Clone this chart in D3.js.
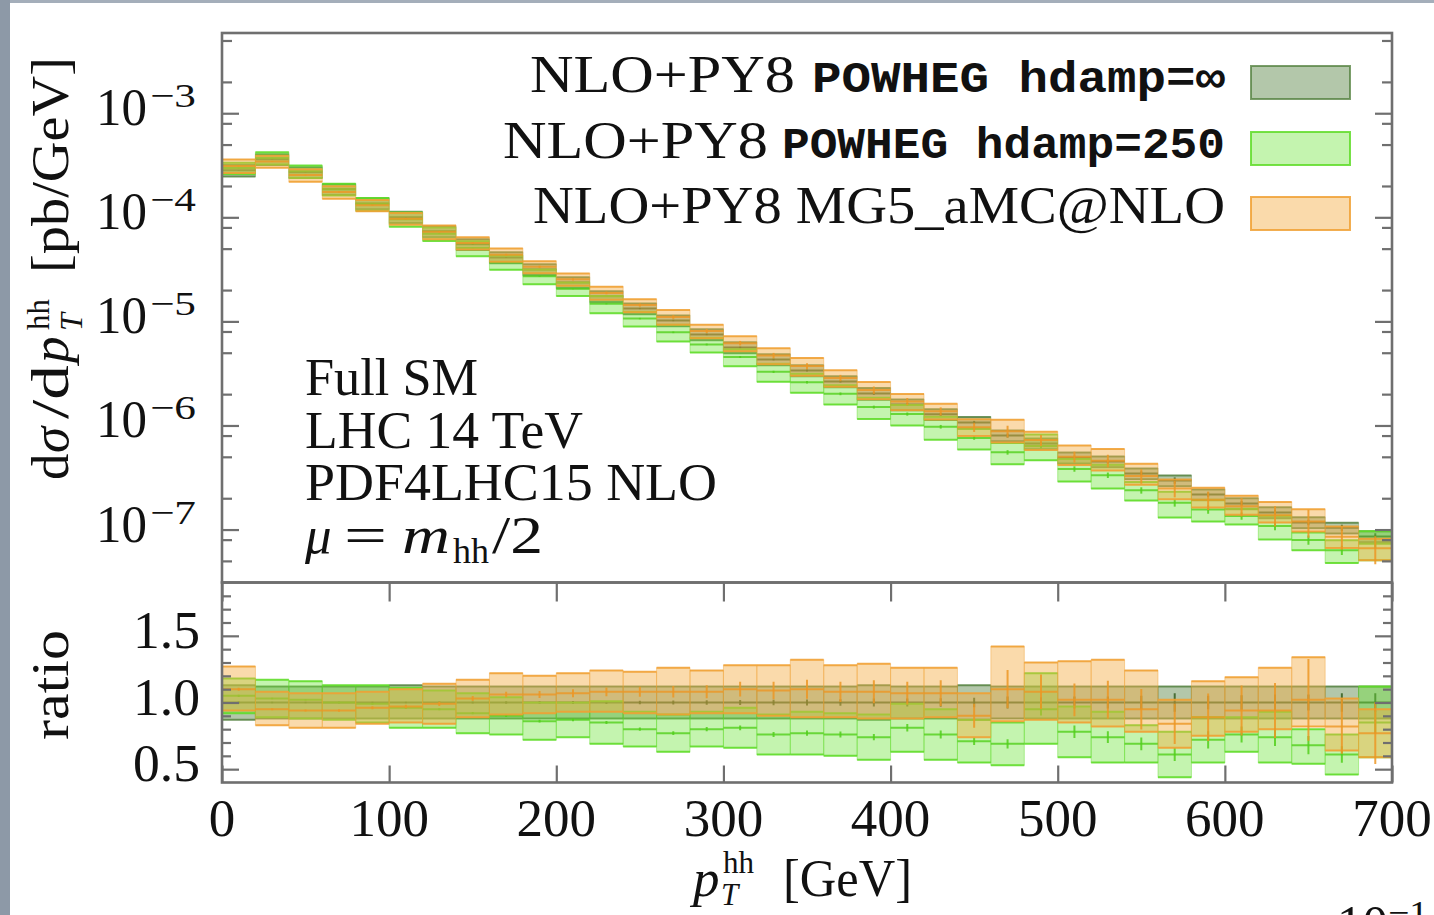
<!DOCTYPE html>
<html><head><meta charset="utf-8">
<script src="https://cdn.jsdelivr.net/npm/d3@7"></script>
<style>body{margin:0;background:#fff;} svg{display:block}</style>
</head><body>
<svg id="c" width="1434" height="915"></svg>
<script>
// ---------------- data ----------------
const binLow = [0,20,40,60,80,100,120,140,160,180,200,220,240,260,280,300,320,340,360,380,400,420,440,460,480,500,520,540,560,580,600,620,640,660,680];
const binWidth = 20;
// reference: NLO+PY8 POWHEG hdamp=inf, central value [pb/GeV]
const refCentral = [2.83e-4,3.61e-4,2.71e-4,1.86e-4,1.36e-4,1.0e-4,7.33e-5,5.5e-5,4.12e-5,3.16e-5,2.37e-5,1.74e-5,1.33e-5,1.02e-5,7.5e-6,5.62e-6,4.31e-6,3.38e-6,2.65e-6,2.03e-6,1.59e-6,1.28e-6,1.07e-6,8.0e-7,6.7e-7,4.9e-7,4.5e-7,3.45e-7,2.96e-7,2.17e-7,1.78e-7,1.46e-7,1.17e-7,1.04e-7,8.6e-8];
// ratios to the reference central value
const refLo  = [0.87,0.88,0.88,0.88,0.88,0.88,0.88,0.88,0.88,0.88,0.88,0.88,0.88,0.88,0.88,0.88,0.88,0.88,0.88,0.87,0.88,0.88,0.87,0.88,0.88,0.88,0.88,0.88,0.88,0.88,0.88,0.88,0.88,0.88,0.88];
const refHi  = [1.13,1.12,1.12,1.12,1.12,1.13,1.12,1.12,1.12,1.12,1.12,1.12,1.12,1.12,1.12,1.12,1.12,1.12,1.12,1.13,1.12,1.12,1.13,1.12,1.12,1.12,1.12,1.12,1.12,1.12,1.12,1.12,1.12,1.12,1.12];
const refMid = [1,1,1,1,1,1,1,1,1,1,1,1,1,1,1,1,1,1,1,1,1,1,1,1,1,1,1,1,1,1,1,1,1,1,1];
const refStat = [0.008,0.005,0.005,0.005,0.006,0.006,0.007,0.008,0.009,0.01,0.011,0.012,0.014,0.015,0.017,0.018,0.02,0.022,0.025,0.03,0.03,0.032,0.035,0.045,0.04,0.045,0.045,0.05,0.07,0.05,0.055,0.06,0.06,0.07,0.07];

const h250Mid = [1.05,1.03,1.02,1.00,0.99,0.96,0.95,0.92,0.90,0.86,0.87,0.85,0.80,0.77,0.80,0.81,0.76,0.77,0.76,0.74,0.81,0.76,0.71,0.69,0.95,0.78,0.74,0.69,0.61,0.72,0.76,0.74,0.68,0.61,0.85];
const h250Lo  = [0.92,0.89,0.88,0.87,0.85,0.81,0.81,0.77,0.76,0.72,0.74,0.69,0.67,0.63,0.67,0.66,0.61,0.61,0.60,0.57,0.63,0.57,0.55,0.53,0.69,0.59,0.55,0.55,0.44,0.55,0.63,0.55,0.54,0.46,0.59];
const h250Hi  = [1.18,1.17,1.16,1.13,1.13,1.11,1.09,1.07,1.04,1.00,1.00,1.01,0.93,0.91,0.93,0.96,0.91,0.93,0.92,0.91,0.99,0.95,0.87,0.85,1.22,0.97,0.93,0.83,0.78,0.89,0.89,0.93,0.80,0.76,1.12];
const h250Stat = [0.008,0.005,0.005,0.006,0.006,0.007,0.008,0.009,0.01,0.012,0.013,0.014,0.016,0.018,0.02,0.022,0.024,0.026,0.03,0.032,0.035,0.04,0.04,0.05,0.05,0.06,0.06,0.07,0.08,0.09,0.08,0.09,0.1,0.1,0.1];

const mgMid = [1.10,0.95,0.94,0.94,0.96,0.97,0.99,1.03,1.06,1.06,1.07,1.08,1.08,1.08,1.08,1.10,1.09,1.10,1.08,1.08,1.07,1.07,0.90,1.10,1.08,1.02,1.02,0.95,0.84,0.89,0.94,0.94,1.02,0.82,0.77];
const mgLo  = [0.94,0.83,0.81,0.81,0.84,0.85,0.84,0.89,0.91,0.92,0.93,0.93,0.92,0.91,0.92,0.92,0.90,0.89,0.89,0.88,0.88,0.89,0.74,0.86,0.87,0.85,0.82,0.78,0.66,0.75,0.78,0.80,0.82,0.64,0.59];
const mgHi  = [1.27,1.08,1.07,1.07,1.08,1.10,1.14,1.17,1.22,1.20,1.22,1.24,1.23,1.26,1.24,1.28,1.28,1.32,1.28,1.29,1.26,1.26,1.07,1.42,1.30,1.31,1.32,1.24,1.02,1.16,1.19,1.26,1.34,1.03,0.95];
const mgStat = [0.01,0.008,0.008,0.01,0.012,0.014,0.016,0.018,0.02,0.025,0.028,0.03,0.035,0.04,0.045,0.05,0.06,0.065,0.07,0.08,0.08,0.09,0.1,0.13,0.12,0.12,0.14,0.16,0.18,0.2,0.2,0.22,0.3,0.25,0.3];

const seriesNames = ["NLO+PY8 POWHEG hdamp=∞", "NLO+PY8 POWHEG hdamp=250", "NLO+PY8 MG5_aMC@NLO"];
const xTicks = [0,100,200,300,400,500,600,700];
const mainMajorTicks = [1e-7,1e-6,1e-5,1e-4,1e-3];
const mainTickExps = ["−7","−6","−5","−4","−3"];
const mainMinorMult = [2,5,8];
const ratioMajorTicks = [0.5,1.0,1.5];
const ratioTickLabels = ["0.5","1.0","1.5"];
const ratioMinorTicks = [0.6,0.7,0.8,0.9,1.1,1.2,1.3,1.4,1.6,1.7,1.8];
const infoLines = ["Full SM","LHC 14 TeV","PDF4LHC15 NLO"];

// ---------------- layout ----------------
const L = 222, R = 1392, T = 33, MB = 582.5, RB = 782.5;
const SERIF = "'Liberation Serif','Times New Roman',serif";
const MONO = "'Liberation Mono','DejaVu Sans Mono',monospace";
const FRAME = "#6f6f6f";

const svg = d3.select("#c");
svg.append("rect").attr("width",1434).attr("height",915).attr("fill","#fff");
svg.append("rect").attr("x",0).attr("y",0).attr("width",1434).attr("height",3).attr("fill","#a4aeba");
svg.append("rect").attr("x",0).attr("y",0).attr("width",10).attr("height",915).attr("fill","#8d99a7");

const x = d3.scaleLinear().domain([0,700]).range([L,R]);
const yMain = d3.scaleLog().domain([3.1e-8,5.9e-3]).range([MB,T]);
const yRat = d3.scaleLinear().domain([0.4,1.9]).range([RB,MB]);

const defs = svg.append("defs");
defs.append("clipPath").attr("id","cm").append("rect").attr("x",L).attr("y",T).attr("width",R-L).attr("height",MB-T);
defs.append("clipPath").attr("id","cr").append("rect").attr("x",L).attr("y",MB).attr("width",R-L).attr("height",RB-MB);

const styles = [
  {fill:"#4f7d3a", fo:0.43, stroke:"#4f7d3a", so:0.75, mid:"#355f22"},
  {fill:"#6be436", fo:0.40, stroke:"#5fdc28", so:0.85, mid:"#52cf1c"},
  {fill:"#f5ad45", fo:0.45, stroke:"#f0a032", so:0.85, mid:"#ec9624"}
];
const series = [
  {lo:refLo, hi:refHi, mid:refMid, stat:refStat},
  {lo:h250Lo, hi:h250Hi, mid:h250Mid, stat:h250Stat},
  {lo:mgLo, hi:mgHi, mid:mgMid, stat:mgStat}
];

function drawSeries(g, yS, s, st, base) {
  const gg = g.append("g");
  binLow.forEach((b,i) => {
    const f = base ? base[i] : 1;
    const x0 = x(b), x1 = x(b+binWidth), xc = x(b+binWidth/2);
    const yHi = yS(s.hi[i]*f), yLo = yS(s.lo[i]*f), yM = yS(s.mid[i]*f);
    gg.append("rect").attr("x",x0).attr("y",yHi).attr("width",x1-x0).attr("height",yLo-yHi)
      .attr("fill",st.fill).attr("fill-opacity",st.fo)
      .attr("stroke",st.stroke).attr("stroke-opacity",st.so*0.5).attr("stroke-width",1);
    gg.append("line").attr("x1",x0).attr("x2",x1).attr("y1",yHi).attr("y2",yHi)
      .attr("stroke",st.stroke).attr("stroke-opacity",st.so).attr("stroke-width",2);
    gg.append("line").attr("x1",x0).attr("x2",x1).attr("y1",yLo).attr("y2",yLo)
      .attr("stroke",st.stroke).attr("stroke-opacity",st.so).attr("stroke-width",2);
    gg.append("line").attr("x1",x0).attr("x2",x1).attr("y1",yM).attr("y2",yM)
      .attr("stroke",st.mid).attr("stroke-opacity",0.8).attr("stroke-width",2);
    gg.append("line").attr("x1",xc).attr("x2",xc)
      .attr("y1",yS(s.mid[i]*f*(1+s.stat[i]))).attr("y2",yS(s.mid[i]*f*(1-s.stat[i])))
      .attr("stroke",st.mid).attr("stroke-opacity",0.85).attr("stroke-width",2);
  });
}

const gMain = svg.append("g").attr("clip-path","url(#cm)");
const gRat = svg.append("g").attr("clip-path","url(#cr)");
series.forEach((s,k) => {
  drawSeries(gMain, yMain, s, styles[k], refCentral);
  drawSeries(gRat, yRat, s, styles[k], null);
});

// ---------------- axes ----------------
function styleAxis(sel){
  sel.select(".domain").remove();
  sel.selectAll(".tick line").attr("stroke",FRAME).attr("stroke-width",2.2);
  sel.selectAll(".tick text").remove();
}
const mainMinor = [];
mainMajorTicks.concat([1e-8,1e-2]).forEach(d => mainMinorMult.forEach(m => {
  const v = d*m; if (v > yMain.domain()[0] && v < yMain.domain()[1]) mainMinor.push(v);
}));
[[d3.axisLeft, L],[d3.axisRight, R]].forEach(([ax, px]) => {
  svg.append("g").attr("transform",`translate(${px},0)`).call(ax(yMain).tickValues(mainMajorTicks).tickSize(-17)).call(styleAxis);
  svg.append("g").attr("transform",`translate(${px},0)`).call(ax(yMain).tickValues(mainMinor).tickSize(-10)).call(styleAxis);
  svg.append("g").attr("transform",`translate(${px},0)`).call(ax(yRat).tickValues(ratioMajorTicks).tickSize(-17)).call(styleAxis);
  svg.append("g").attr("transform",`translate(${px},0)`).call(ax(yRat).tickValues(ratioMinorTicks).tickSize(-9)).call(styleAxis);
});
svg.append("g").attr("transform",`translate(0,${RB})`).call(d3.axisBottom(x).tickValues(xTicks).tickSize(-17)).call(styleAxis);
svg.append("g").attr("transform",`translate(0,${MB})`).call(d3.axisTop(x).tickValues(xTicks).tickSize(-19)).call(styleAxis);

// frames
svg.append("rect").attr("x",L).attr("y",T).attr("width",R-L).attr("height",MB-T)
  .attr("fill","none").attr("stroke",FRAME).attr("stroke-width",2.6);
svg.append("rect").attr("x",L).attr("y",MB).attr("width",R-L).attr("height",RB-MB)
  .attr("fill","none").attr("stroke",FRAME).attr("stroke-width",2.6);

// ---------------- text ----------------
function t(parent, px, py, str, o={}) {
  const e = parent.append("text").attr("x",px).attr("y",py).text(str)
    .attr("font-family", o.family || SERIF).attr("font-size", o.size || 53)
    .attr("fill","#111");
  if (o.anchor) e.attr("text-anchor",o.anchor);
  if (o.italic) e.attr("font-style","italic");
  if (o.weight) e.attr("font-weight",o.weight);
  if (o.len) e.attr("textLength",o.len).attr("lengthAdjust","spacingAndGlyphs");
  return e;
}
// main y tick labels
mainMajorTicks.forEach((v,i) => {
  const yy = yMain(v);
  t(svg, 96, yy+12, "10", {len:51});
  t(svg, 150, yy-6, mainTickExps[i], {size:34, len:46});
});
ratioMajorTicks.forEach((v,i) => t(svg, 200, yRat(v)+12, ratioTickLabels[i], {anchor:"end", len:67}));
xTicks.forEach(v => t(svg, x(v), 836, String(v), {anchor:"middle"}));

// x label
t(svg, 693, 896, "p", {italic:true});
t(svg, 723, 873, "hh", {size:31});
t(svg, 721, 905, "T", {size:31, italic:true});
t(svg, 783, 896, "[GeV]", {len:129});

// y label (rotated)
const gy = svg.append("g").attr("transform","translate(68,480) rotate(-90)");
t(gy, 0, 0, "d");
t(gy, 27, 0, "σ", {italic:true});
t(gy, 61, 0, "/d", {len:54});
t(gy, 117, 0, "p", {italic:true});
t(gy, 150, -19, "hh", {size:31});
t(gy, 149, 14, "T", {size:32, italic:true});
t(gy, 207, 0, "[pb/GeV]", {len:216});
const gr = svg.append("g").attr("transform","translate(68,685) rotate(-90)");
t(gr, 0, 0, "ratio", {anchor:"middle", len:110});

// info text
const infoLen = [173, 278, 412];
infoLines.forEach((s,i) => t(svg, 305, 395 + i*52.5, s, {len:infoLen[i]}));
t(svg, 305, 553, "μ", {italic:true});
t(svg, 344, 553, "=", {len:43});
t(svg, 402, 553, "m", {italic:true, len:48});
t(svg, 453, 563, "hh", {size:36});
t(svg, 492, 553, "/2", {len:51});

// legend
const legRows = [
  {top:66, base:92, serifX:530, serifW:265, monoX:812, monoW:413},
  {top:132, base:158, serifX:503, serifW:265, monoX:782, monoW:443},
  {top:197, base:223, serifX:533, serifW:692}
];
seriesNames.forEach((name,i) => {
  const r = legRows[i];
  if (r.monoX) {
    const sp = name.indexOf(" ");
    t(svg, r.serifX, r.base, name.slice(0,sp), {len:r.serifW});
    t(svg, r.monoX, r.base, name.slice(sp+1), {family:MONO, size:45, weight:"bold", len:r.monoW});
  } else {
    t(svg, r.serifX, r.base, name, {len:r.serifW});
  }
  svg.append("rect").attr("x",1251).attr("y",r.top).attr("width",99).attr("height",33)
    .attr("fill",styles[i].fill).attr("fill-opacity",styles[i].fo)
    .attr("stroke",styles[i].stroke).attr("stroke-opacity",styles[i].so).attr("stroke-width",2);
});

// partially visible label at the bottom edge (cut off in the reference too)
t(svg, 1337, 942, "10", {len:51});
t(svg, 1388, 924, "−1", {size:34, len:40});
</script>
</body></html>
